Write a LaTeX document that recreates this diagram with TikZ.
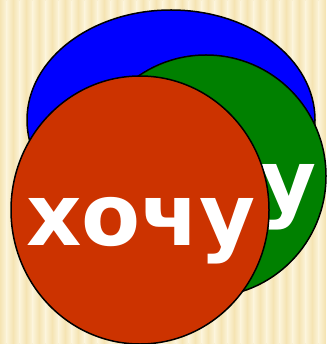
\documentclass[tikz,border=0pt]{standalone}
\usepackage{fontspec}
\newfontfamily\wordfont{DejaVu Sans}
\usetikzlibrary{shapes.geometric}

\definecolor{paper}{HTML}{F5E4B3}
\definecolor{paperlight}{HTML}{FCF4DA}
\definecolor{ovalblue}{HTML}{0000FF}
\definecolor{ovalgreen}{HTML}{008000}
\definecolor{ovalred}{HTML}{CC3300}

\begin{document}
\begin{tikzpicture}[
    x=1pt, y=-1pt,
    oval/.style={draw=black, line width=1.5pt, ellipse, inner sep=0pt},
    word/.style={text=white, inner sep=0pt, anchor=base,
        font=\wordfont\bfseries\fontsize{86}{86}\selectfont}
]
    % striped paper
    \fill[paper] (0,0) rectangle (326,344);
    \foreach \x in {0,13,...,312} {
        \shade[left color=paper, right color=paperlight] (\x,0) rectangle (\x+6.5,344);
        \shade[left color=paperlight, right color=paper] (\x+6.5,0) rectangle (\x+13,344);
    }
    \useasboundingbox (0,0) rectangle (326,344);

    \node[oval, fill=ovalblue, minimum width=288, minimum height=220] (blueoval) at (171,120) {};
    \node[oval, fill=ovalgreen, minimum width=240, minimum height=242] (greenoval) at (206,176) {};
    \node[word] (greenword) at (289,211) {у};
    \node[oval, fill=ovalred, minimum width=258, minimum height=268] (redoval) at (140,210) {};
    \node[word] (redword) at (141,245) {хочу};
\end{tikzpicture}
\end{document}
